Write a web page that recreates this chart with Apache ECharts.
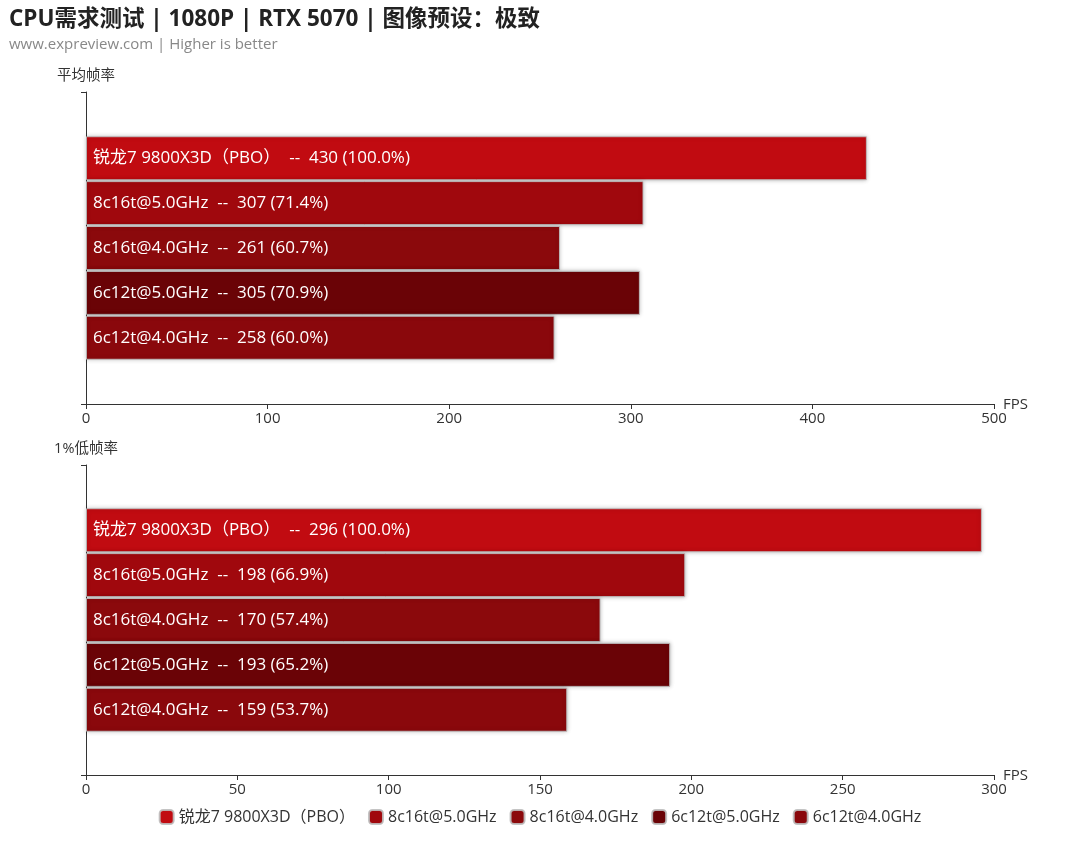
<!DOCTYPE html>
<html>
<head>
<meta charset="utf-8">
<script src="https://cdn.jsdelivr.net/npm/echarts@6/dist/echarts.min.js"></script>
<style>html,body{margin:0;padding:0;background:#fff}#c{width:1080px;height:852px}</style>
</head>
<body>
<div id="c"></div>
<script>
var seriesNames = ['锐龙7 9800X3D（PBO）', '8c16t@5.0GHz', '8c16t@4.0GHz', '6c12t@5.0GHz', '6c12t@4.0GHz'];
var colors = ['#C10B11', '#A0080D', '#8B090C', '#6A0306', '#8A080C'];
var avgFps = [430, 307, 261, 305, 258];
var lowFps = [296, 198, 170, 193, 159];
var panelNames = ['平均帧率', '1%低帧率'];
var axisMax = [500, 300];
var axisInterval = [100, 50];

var FONT = '"Open Sans", "Noto Sans CJK SC", sans-serif';
var chart = echarts.init(document.getElementById('c'));

function pct(v, base) { return (v / base * 100).toFixed(1); }

var series = [];
[avgFps, lowFps].forEach(function (vals, gi) {
  seriesNames.forEach(function (name, i) {
    series.push({
      type: 'bar',
      name: name,
      xAxisIndex: gi,
      yAxisIndex: gi,
      data: [vals[i]],
      barWidth: 44,
      barGap: '2%',
      itemStyle: {
        color: colors[i],
        borderColor: 'rgba(190,190,190,0.9)',
        borderWidth: 1,
        shadowBlur: 4,
        shadowColor: 'rgba(0,0,0,0.25)'
      },
      label: {
        show: true,
        position: 'insideLeft',
        distance: 7,
        color: '#fff',
        fontSize: 17,
        fontFamily: FONT,
        formatter: function () {
          return name + '  --  ' + vals[i] + ' (' + pct(vals[i], vals[0]) + '%)';
        }
      }
    });
  });
});

var option = {
  animation: false,
  backgroundColor: '#fff',
  title: {
    text: 'CPU需求测试 | 1080P | RTX 5070 | 图像预设：极致',
    subtext: 'www.expreview.com | Higher is better',
    left: 4, top: 3,
    itemGap: 7,
    textStyle: { fontSize: 22.5, fontWeight: 'bold', color: '#222', fontFamily: FONT },
    subtextStyle: { fontSize: 15, color: '#888', fontFamily: FONT }
  },
  legend: {
    bottom: 22,
    left: 'center',
    itemWidth: 14, itemHeight: 14,
    itemGap: 13,
    icon: 'roundRect',
    textStyle: { fontSize: 16, color: '#333', fontFamily: FONT },
    data: seriesNames
  },
  grid: [
    { left: 86, right: 86, top: 92, height: 312 },
    { left: 86, right: 86, top: 465, height: 310 }
  ],
  xAxis: [0, 1].map(function (gi) {
    return {
      type: 'value',
      gridIndex: gi,
      min: 0, max: axisMax[gi], interval: axisInterval[gi],
      name: 'FPS',
      nameGap: 9,
      nameMoveOverlap: false,
      nameTextStyle: { fontSize: 15, color: '#333', fontFamily: FONT, verticalAlign: 'bottom', padding: [0, 0, -8, 0] },
      axisLine: { show: true, lineStyle: { color: '#333' } },
      axisTick: { show: true, length: 5, lineStyle: { color: '#333' } },
      axisLabel: { fontSize: 15, color: '#333', fontFamily: FONT, margin: 7 },
      splitLine: { show: false }
    };
  }),
  yAxis: [0, 1].map(function (gi) {
    return {
      type: 'category',
      gridIndex: gi,
      data: [''],
      name: panelNames[gi],
      nameLocation: 'end',
      nameGap: 9,
      nameTextStyle: { fontSize: 14.5, color: '#333', fontFamily: FONT },
      axisLine: { show: true, lineStyle: { color: '#333' } },
      axisTick: { show: true, length: 5, lineStyle: { color: '#333' } },
      axisLabel: { show: false }
    };
  }),
  series: series
};
chart.setOption(option);
</script>
</body>
</html>
